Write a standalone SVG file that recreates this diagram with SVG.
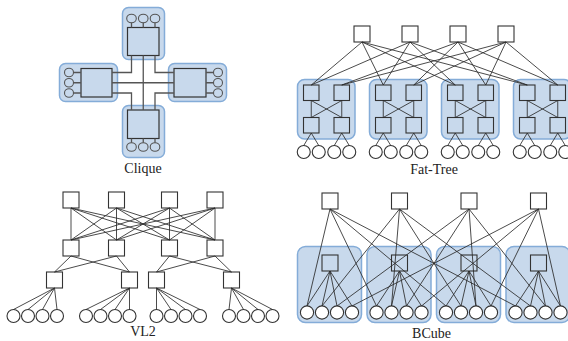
<svg xmlns="http://www.w3.org/2000/svg" width="568" height="341" viewBox="0 0 568 341">
<style>
.grp{fill:#c8d9ec;stroke:#84acd8;stroke-width:1.5}
.cbox{fill:none;stroke:#333;stroke-width:1.2}
.sw{fill:#fff;stroke:#333;stroke-width:1.1}
.swin{fill:none;stroke:#333;stroke-width:1.1}
.host{fill:#fff;stroke:#333;stroke-width:1.1}
.chost{fill:none;stroke:#555;stroke-width:1.1}
.cl{fill:none;stroke:#555;stroke-width:1.3}
.ln{fill:none;stroke:#2a2a2a;stroke-width:0.85}
.lbl{font-family:"Liberation Serif",serif;font-size:14px;fill:#222;text-anchor:middle}
</style>
<rect width="568" height="341" fill="#fff"/>

<!-- ===== Clique ===== -->
<g id="clique-top">
<rect class="grp" x="122.5" y="7.5" width="42" height="52" rx="6"/>
<rect class="cbox" x="127.5" y="27.5" width="31.5" height="28"/>
<ellipse class="chost" cx="131.5" cy="18.5" rx="4.8" ry="4.3"/>
<ellipse class="chost" cx="143.25" cy="18.5" rx="4.8" ry="4.3"/>
<ellipse class="chost" cx="155" cy="18.5" rx="4.8" ry="4.3"/>
<path class="cl" d="M131.5,22.8V27.5M143.25,22.8V27.5M155,22.8V27.5"/>
</g>
<g id="clique-left">
<rect class="grp" x="59.5" y="63.5" width="58" height="38" rx="6"/>
<rect class="cbox" x="81" y="68.5" width="31" height="28.5"/>
<ellipse class="chost" cx="69" cy="72.5" rx="4.5" ry="4.3"/>
<ellipse class="chost" cx="69" cy="82.75" rx="4.5" ry="4.3"/>
<ellipse class="chost" cx="69" cy="93" rx="4.5" ry="4.3"/>
<path class="cl" d="M73.5,72.5H81M73.5,82.75H81M73.5,93H81"/>
</g>
<g id="clique-right">
<rect class="grp" x="168.5" y="63.5" width="58" height="38" rx="6"/>
<rect class="cbox" x="174" y="68.5" width="32" height="28.5"/>
<ellipse class="chost" cx="218" cy="72.5" rx="4.5" ry="4.3"/>
<ellipse class="chost" cx="218" cy="82.75" rx="4.5" ry="4.3"/>
<ellipse class="chost" cx="218" cy="93" rx="4.5" ry="4.3"/>
<path class="cl" d="M206,72.5H213.5M206,82.75H213.5M206,93H213.5"/>
</g>
<g id="clique-bottom">
<rect class="grp" x="122.5" y="105.5" width="42" height="52" rx="6"/>
<rect class="cbox" x="127.5" y="110" width="31.5" height="28.5"/>
<ellipse class="chost" cx="131.5" cy="147" rx="4.8" ry="4.3"/>
<ellipse class="chost" cx="143.25" cy="147" rx="4.8" ry="4.3"/>
<ellipse class="chost" cx="155" cy="147" rx="4.8" ry="4.3"/>
<path class="cl" d="M131.5,138.5V142.7M143.25,138.5V142.7M155,138.5V142.7"/>
</g>
<g id="clique-links">
<path class="cl" d="M131.5,55.5V72.5H112M143.25,55.5V110M155,55.5V72.5H174M112,82.75H174M112,93H131.5V110M174,93H155V110"/>
</g>
<text class="lbl" x="143" y="173">Clique</text>

<!-- ===== Fat-Tree ===== -->
<g id="ft-core1"><rect class="sw" x="354" y="26" width="16" height="16"/></g>
<g id="ft-core2"><rect class="sw" x="402" y="26" width="16" height="16"/></g>
<g id="ft-core3"><rect class="sw" x="450" y="26" width="16" height="16"/></g>
<g id="ft-core4"><rect class="sw" x="498" y="26" width="16" height="16"/></g>
<defs>
<g id="podShape">
<rect class="grp" x="0" y="79.5" width="57.5" height="59.5" rx="7"/>
<rect class="swin" x="6" y="85" width="15.5" height="15.5"/>
<rect class="swin" x="36.5" y="85" width="15.5" height="15.5"/>
<rect class="swin" x="6" y="117.5" width="15.5" height="15.5"/>
<rect class="swin" x="36.5" y="117.5" width="15.5" height="15.5"/>
<circle class="host" cx="6.25" cy="152" r="6.5"/>
<circle class="host" cx="21.25" cy="152" r="6.5"/>
<circle class="host" cx="36.75" cy="152" r="6.5"/>
<circle class="host" cx="51.75" cy="152" r="6.5"/>
</g>
<path id="podLinks" class="ln" d="M13.75,100.5V117.5M13.75,100.5L44.25,117.5M44.25,100.5L13.75,117.5M44.25,100.5V117.5M13.75,133L6.25,145.5M13.75,133L21.25,145.5M44.25,133L36.75,145.5M44.25,133L51.75,145.5"/>
</defs>
<g id="ft-pod1"><use href="#podShape" x="297.5"/></g>
<g id="ft-pod2"><use href="#podShape" x="369.5"/></g>
<g id="ft-pod3"><use href="#podShape" x="441.5"/></g>
<g id="ft-pod4"><use href="#podShape" x="513.5"/></g>
<g id="ft-links">
<path class="ln" d="M362,42L311.25,85M362,42L383.25,85M362,42L455.25,85M362,42L527.25,85M410,42L311.25,85M410,42L383.25,85M410,42L455.25,85M410,42L527.25,85M458,42L341.75,85M458,42L413.75,85M458,42L485.75,85M458,42L557.75,85M506,42L341.75,85M506,42L413.75,85M506,42L485.75,85M506,42L557.75,85"/>
<use href="#podLinks" x="297.5"/>
<use href="#podLinks" x="369.5"/>
<use href="#podLinks" x="441.5"/>
<use href="#podLinks" x="513.5"/>
</g>
<text class="lbl" x="434" y="174">Fat-Tree</text>

<!-- ===== VL2 ===== -->
<g id="vl2-int1"><rect class="sw" x="63" y="192" width="16" height="16"/></g>
<g id="vl2-int2"><rect class="sw" x="108.5" y="192" width="16" height="16"/></g>
<g id="vl2-int3"><rect class="sw" x="161.5" y="192" width="16" height="16"/></g>
<g id="vl2-int4"><rect class="sw" x="207" y="192" width="16" height="16"/></g>
<g id="vl2-agg1"><rect class="sw" x="63" y="240" width="16" height="16"/></g>
<g id="vl2-agg2"><rect class="sw" x="108.5" y="240" width="16" height="16"/></g>
<g id="vl2-agg3"><rect class="sw" x="161.5" y="240" width="16" height="16"/></g>
<g id="vl2-agg4"><rect class="sw" x="207" y="240" width="16" height="16"/></g>
<g id="vl2-tor1"><rect class="sw" x="46.5" y="272" width="16" height="16"/></g>
<g id="vl2-tor2"><rect class="sw" x="121.5" y="272" width="16" height="16"/></g>
<g id="vl2-tor3"><rect class="sw" x="148.5" y="272" width="16" height="16"/></g>
<g id="vl2-tor4"><rect class="sw" x="223.5" y="272" width="16" height="16"/></g>
<g id="vl2-hosts1">
<circle class="host" cx="13.5" cy="316" r="6.5"/><circle class="host" cx="28" cy="316" r="6.5"/><circle class="host" cx="42.5" cy="316" r="6.5"/><circle class="host" cx="57" cy="316" r="6.5"/>
</g>
<g id="vl2-hosts2">
<circle class="host" cx="86" cy="316" r="6.5"/><circle class="host" cx="100.5" cy="316" r="6.5"/><circle class="host" cx="115" cy="316" r="6.5"/><circle class="host" cx="129.5" cy="316" r="6.5"/>
</g>
<g id="vl2-hosts3">
<circle class="host" cx="156.5" cy="316" r="6.5"/><circle class="host" cx="171" cy="316" r="6.5"/><circle class="host" cx="185.5" cy="316" r="6.5"/><circle class="host" cx="200" cy="316" r="6.5"/>
</g>
<g id="vl2-hosts4">
<circle class="host" cx="229" cy="316" r="6.5"/><circle class="host" cx="243.5" cy="316" r="6.5"/><circle class="host" cx="258" cy="316" r="6.5"/><circle class="host" cx="272.5" cy="316" r="6.5"/>
</g>
<g id="vl2-links">
<path class="ln" d="M71,208L71,240M71,208L116.5,240M71,208L169.5,240M71,208L215,240M116.5,208L71,240M116.5,208L116.5,240M116.5,208L169.5,240M116.5,208L215,240M169.5,208L71,240M169.5,208L116.5,240M169.5,208L169.5,240M169.5,208L215,240M215,208L71,240M215,208L116.5,240M215,208L169.5,240M215,208L215,240"/>
<path class="ln" d="M71,256L54.5,272M71,256L129.5,272M116.5,256L54.5,272M116.5,256L129.5,272M169.5,256L156.5,272M169.5,256L231.5,272M215,256L156.5,272M215,256L231.5,272"/>
<path class="ln" d="M54.5,288L13.5,309.5M54.5,288L28,309.5M54.5,288L42.5,309.5M54.5,288L57,309.5M129.5,288L86,309.5M129.5,288L100.5,309.5M129.5,288L115,309.5M129.5,288L129.5,309.5M156.5,288L156.5,309.5M156.5,288L171,309.5M156.5,288L185.5,309.5M156.5,288L200,309.5M231.5,288L229,309.5M231.5,288L243.5,309.5M231.5,288L258,309.5M231.5,288L272.5,309.5"/>
</g>
<text class="lbl" x="143" y="335.5">VL2</text>

<!-- ===== BCube ===== -->
<g id="bc-l1-1"><rect class="sw" x="322" y="193" width="16" height="16"/></g>
<g id="bc-l1-2"><rect class="sw" x="391.5" y="193" width="16" height="16"/></g>
<g id="bc-l1-3"><rect class="sw" x="461" y="193" width="16" height="16"/></g>
<g id="bc-l1-4"><rect class="sw" x="530.5" y="193" width="16" height="16"/></g>
<defs>
<g id="bcShape">
<rect class="grp" x="0" y="246.5" width="64" height="76" rx="8"/>
<rect class="swin" x="24.5" y="255" width="16" height="16"/>
<circle class="host" cx="9.5" cy="312.5" r="6.6"/>
<circle class="host" cx="24.5" cy="312.5" r="6.6"/>
<circle class="host" cx="39.5" cy="312.5" r="6.6"/>
<circle class="host" cx="54.5" cy="312.5" r="6.6"/>
</g>
<path id="bcLinks" class="ln" d="M32.5,271L9.5,306M32.5,271L24.5,306M32.5,271L39.5,306M32.5,271L54.5,306"/>
</defs>
<g id="bc-cube1"><use href="#bcShape" x="297.5"/></g>
<g id="bc-cube2"><use href="#bcShape" x="367"/></g>
<g id="bc-cube3"><use href="#bcShape" x="436.5"/></g>
<g id="bc-cube4"><use href="#bcShape" x="506"/></g>
<g id="bc-links">
<use href="#bcLinks" x="297.5"/>
<use href="#bcLinks" x="367"/>
<use href="#bcLinks" x="436.5"/>
<use href="#bcLinks" x="506"/>
<path class="ln" d="M330,209L307,306M330,209L376.5,306M330,209L446,306M330,209L515.5,306M399.5,209L322,306M399.5,209L391.5,306M399.5,209L461,306M399.5,209L530.5,306M469,209L337,306M469,209L406.5,306M469,209L476,306M469,209L545.5,306M538.5,209L352,306M538.5,209L421.5,306M538.5,209L491,306M538.5,209L560.5,306"/>
</g>
<text class="lbl" x="431.5" y="338">BCube</text>
</svg>
